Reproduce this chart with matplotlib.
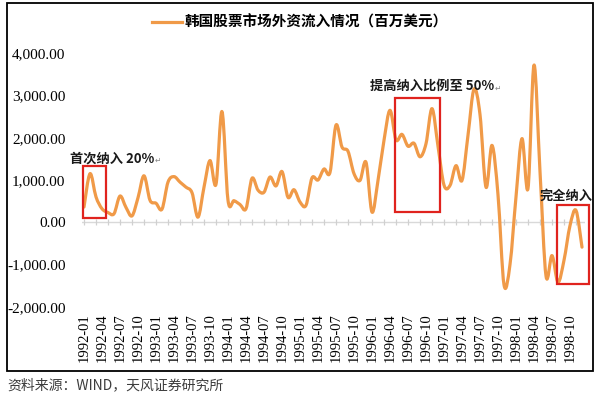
import numpy as np
import matplotlib
matplotlib.use("Agg")
import matplotlib.pyplot as plt
from matplotlib.path import Path
from matplotlib.patches import PathPatch, Rectangle
from matplotlib.lines import Line2D

# ---------------- data ----------------
series_name = "韩国股票市场外资流入情况（百万美元）"
months = [f"{y}-{m:02d}" for y in range(1992, 1999) for m in range(1, 13)]  # 1992-01 .. 1998-12

inflow = [
    360, 1150, 600, 320, 230, 200, 620, 350, 150, 580, 1100, 520,        # 1992
    450, 310, 950, 1080, 950, 830, 700, 120, 830, 1460, 900, 2620,       # 1993
    520, 510, 420, 320, 1040, 760, 710, 1070, 860, 1200, 590, 770,       # 1994
    480, 400, 1050, 1000, 1260, 1180, 2300, 1780, 1680, 1150, 990, 1420, # 1995
    240, 990, 1940, 2650, 1950, 2080, 1800, 1870, 1550, 1860, 2690, 1800,# 1996
    880, 870, 1340, 990, 2060, 3150, 2550, 830, 1820, 650, -1480, -1000, # 1997
    600, 1980, 800, 3720, 1200, -1270, -790, -1420, -900, -80, 280, -590 # 1998
]

tick_labels = ["1992-01", "1992-04", "1992-07", "1992-10",
               "1993-01", "1993-04", "1993-07", "1993-10",
               "1994-01", "1994-04", "1994-07", "1994-10",
               "1995-01", "1995-04", "1995-07", "1995-10",
               "1996-01", "1996-04", "1996-07", "1996-10",
               "1997-01", "1997-04", "1997-07", "1997-10",
               "1998-01", "1998-04", "1998-07", "1998-10"]

y_ticks = [-2000, -1000, 0, 1000, 2000, 3000, 4000]

annotations = [
    ("首次纳入 20%", "1992-01", "1992-04"),
    ("提高纳入比例至 50%", "1996-05", "1996-12"),
    ("完全纳入", "1998-08", "1998-12"),
]

# ---------------- style ----------------
LINE_COLOR = "#F09A48"
BOX_COLOR = "#E0231E"
CJK = ["Noto Sans CJK SC", "DejaVu Sans"]
SERIF = ["Liberation Serif", "DejaVu Serif"]

fig = plt.figure(figsize=(6, 3.96), dpi=100)
W, H = 600, 396
x_lo, x_hi = -0.3, 83.5
px_left, px_right = 84 - 0.3 * 6.0, 84 + 83.5 * 6.0
px_top, px_bot = 53.3, 306.7
ax = fig.add_axes([px_left / W, 1 - px_bot / H, (px_right - px_left) / W, (px_bot - px_top) / H])
ax.set_xlim(x_lo, x_hi)
ax.set_ylim(-2000, 4000)

x = np.arange(len(inflow))
y = np.array(inflow, dtype=float)

# smooth (Excel-like Catmull-Rom Bezier) line through the data points
verts = [(x[0], y[0])]
codes = [Path.MOVETO]
n = len(x)
for i in range(n - 1):
    p0 = np.array([x[max(i - 1, 0)], y[max(i - 1, 0)]])
    p1 = np.array([x[i], y[i]])
    p2 = np.array([x[i + 1], y[i + 1]])
    p3 = np.array([x[min(i + 2, n - 1)], y[min(i + 2, n - 1)]])
    c1 = p1 + (p2 - p0) / 6.0
    c2 = p2 - (p3 - p1) / 6.0
    verts += [tuple(c1), tuple(c2), tuple(p2)]
    codes += [Path.CURVE4] * 3
ax.add_patch(PathPatch(Path(verts, codes), fill=False, ec=LINE_COLOR, lw=2.3,
                       capstyle="round", joinstyle="round", zorder=3))

# zero line with small ticks
ax.axhline(0, color="#D9D9D9", lw=1.0, zorder=1)
ax.plot(np.arange(0, len(inflow), 2), np.zeros(len(range(0, len(inflow), 2))), ls="none",
        marker="|", ms=5, mew=0.9, color="#D0D0D0", zorder=1)

# axes styling
for s in ax.spines.values():
    s.set_visible(False)
ax.set_yticks(y_ticks)
ax.set_yticklabels([f"{v:,.2f}" for v in y_ticks], fontfamily=SERIF, fontsize=11)
ax.set_xticks([months.index(t) for t in tick_labels])
ax.set_xticklabels(tick_labels, rotation=90, fontfamily=SERIF, fontsize=10.5, va="top")
ax.tick_params(axis="y", length=0, pad=12)
ax.tick_params(axis="x", length=0, pad=4.5)

# red boxes + annotation text
box_pad = {0: (-0.2, 0.7, 95, 1320), 1: (-0.2, 0.3, 254, 2945), 2: (-0.2, 1.2, -1470, 400)}
text_pos = {0: (-2.3, 1513), 1: (47.7, 3223), 2: (76.0, 634)}
for k, (label, m0, m1) in enumerate(annotations):
    i0, i1 = months.index(m0), months.index(m1)
    dl, dr, yb, yt = box_pad[k]
    ax.add_patch(Rectangle((i0 + dl, yb), (i1 + dr) - (i0 + dl), yt - yb, fill=False,
                           ec=BOX_COLOR, lw=1.6, zorder=4, clip_on=False))
    tx, ty = text_pos[k]
    t = ax.text(tx, ty, label, fontfamily=CJK, fontsize=9.5, fontweight="bold",
                color="#1a1a1a", ha="left", va="center", clip_on=False, zorder=5)
    if k < 2:
        ax.annotate("↵", xy=(1.0, 0.35), xycoords=t, fontsize=5.5, color="#888888",
                    ha="left", va="center", family=["DejaVu Sans"])

# legend
handle = Line2D([], [], color=LINE_COLOR, lw=2.3)
fig.legend([handle], [series_name], loc="center", bbox_to_anchor=(300 / W, 1 - 22 / H),
           frameon=False, handlelength=2.0, handletextpad=0.2,
           prop={"family": CJK, "size": 10.5, "weight": "bold"})

# outer frame
fig.add_artist(Rectangle((7 / W, 1 - 371 / H), (593 - 7) / W, (371 - 3) / H,
                         transform=fig.transFigure, fill=False, ec="black", lw=1.3))

# source note
fig.text(7 / W, 1 - 385 / H, "资料来源：WIND，天风证券研究所", fontfamily=CJK,
         fontsize=10, color="#3C3C3C", ha="left", va="center")

fig.savefig("out.png", dpi=100)
